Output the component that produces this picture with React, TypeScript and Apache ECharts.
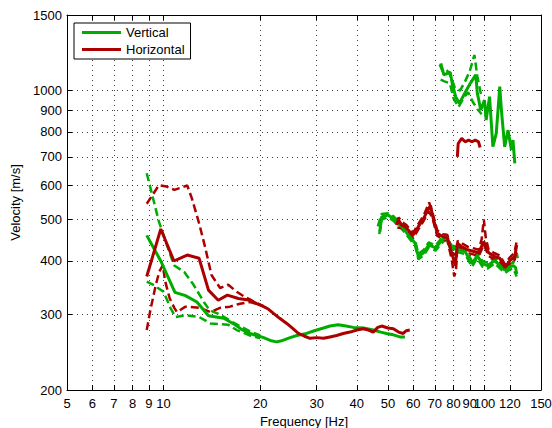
import React, { useEffect, useRef } from "react";
import * as echarts from "echarts";

// Axis tick values (Hz and m/s)
const xTickValues = [5, 6, 7, 8, 9, 10, 20, 30, 40, 50, 60, 70, 80, 90, 100, 120, 150];
const yTickValues = [200, 300, 400, 500, 600, 700, 800, 900, 1000, 1500];

// ---- Vertical (green) ----
const vertLow = [
  [8.86, 459], [9.8, 400], [10.85, 338], [11.7, 332], [12.7, 321], [13.8, 298], [15.4, 294],
  [16.7, 284], [17.5, 277], [18.6, 271], [19.5, 268], [20.5, 265], [21.5, 261], [22.5, 259],
  [23.5, 261], [24.8, 265], [26, 268], [27.9, 271], [29.5, 275], [31.5, 279], [33, 282],
  [35, 284], [37, 282], [39, 280], [42, 279], [45, 276], [47.5, 273], [49.5, 271], [52, 269],
  [54.5, 266], [56.5, 266],
];
const vertLowUpper = [
  [8.86, 641], [9.67, 494], [10.77, 391], [11.6, 377], [12.4, 352], [13.35, 321], [13.9, 307],
  [15, 300], [16.4, 288], [18.6, 274], [20, 268],
];
const vertLowLower = [
  [8.86, 358], [9.34, 351], [10, 339], [10.5, 311], [10.9, 296], [11.7, 299], [12.9, 296],
  [14, 286], [15.9, 284], [16.9, 276], [18.6, 268], [20, 264],
];
const vertMid = [
  [47.2, 468], [47.8, 507], [50, 512], [52, 503], [53.2, 494], [55.8, 477], [58.5, 456],
  [60.8, 440], [62.2, 410], [64.6, 418], [67, 436], [70.4, 429], [73.1, 444], [75.9, 456],
  [78.8, 429], [82.8, 425], [87, 421], [91.4, 394], [94.9, 412], [98.5, 394], [102.3, 390],
  [107.5, 401], [115.8, 381], [120, 388], [123, 390], [125, 386], [126, 373],
];
const vertMidUpper = [
  [46.5, 482], [47.8, 515], [50, 517], [52, 509], [53.2, 500], [55.8, 483], [58.5, 462],
  [60.8, 446], [62.2, 416], [64.6, 424], [67, 442], [70.4, 435], [73.1, 450], [75.9, 462],
  [78.8, 435], [82.8, 431], [87, 427], [91.4, 400], [94.9, 418], [98.5, 400], [102.3, 396],
  [107.5, 407], [115.8, 387], [120, 394], [123, 396], [126, 418], [127, 405],
];
const vertMidLower = [
  [47, 462], [47.8, 500], [50, 506], [52, 497], [53.2, 488], [55.8, 471], [58.5, 450],
  [60.8, 434], [62.2, 404], [64.6, 412], [67, 430], [70.4, 423], [73.1, 438], [75.9, 450],
  [78.8, 423], [82.8, 419], [87, 415], [91.4, 388], [94.9, 406], [98.5, 388], [102.3, 384],
  [107.5, 395], [115.8, 375], [120, 382], [123, 384], [126, 368],
];
const vertHigh = [
  [73.1, 1157], [74.7, 1087], [78.2, 1103], [79.3, 1039], [81.3, 967], [83.5, 933], [86.8, 985],
  [90.3, 1039], [93.9, 1087], [95, 985], [97.4, 900], [100, 950], [101.2, 853], [103.7, 967],
  [106.2, 739], [108.8, 794], [111.6, 1021], [112.9, 900], [115.6, 739], [118.4, 808],
  [121.3, 726], [122.7, 766], [124.3, 676],
];
const vertHighUpper = [
  [72.5, 1150], [74, 1110], [76, 1120], [78, 1090], [81, 1010], [84, 1000], [87, 1050],
  [90, 1110], [93, 1210], [95, 1080], [98, 960],
];
const vertHighLower = [
  [73, 1060], [75, 1050], [78, 1040], [80, 960], [83, 915], [86, 960], [89, 990], [92, 940],
  [95, 905], [98, 880],
];

// ---- Horizontal (red) ----
const horLow = [
  [8.86, 368], [9.8, 475], [10.77, 400], [11.85, 413], [12.9, 406], [13.8, 342], [14.8, 324],
  [15.8, 333], [17.1, 327], [18.6, 324], [19.5, 318], [20.5, 313], [21.2, 309], [22, 302],
  [23, 294], [24.2, 286], [25.3, 278], [26.3, 271], [27.5, 267], [28.6, 264], [30, 265],
  [31.5, 264], [33, 266], [34.6, 268], [36.3, 271], [38.1, 273], [40, 276], [41.9, 278],
  [43.5, 276], [45, 273], [46.5, 280], [47.8, 282], [50, 279], [52, 278], [54, 273],
  [55.8, 271], [57, 275], [58.5, 276],
];
const horLowUpper = [
  [8.86, 544], [9.67, 601], [10.2, 597], [10.8, 586], [11.85, 600], [12.25, 560], [12.9, 490],
  [13.5, 428], [14.1, 371], [15, 346], [15.9, 352], [16.9, 339], [17.9, 330], [19.2, 321],
  [20.5, 314],
];
const horLowLower = [
  [8.86, 276], [9.1, 308], [9.45, 351], [9.7, 378], [9.95, 391], [10.1, 360], [10.45, 327],
  [10.8, 311], [11, 304], [11.7, 313], [13, 311], [14, 304], [15, 311], [16.1, 313],
  [17.3, 318], [18.6, 321], [20, 316],
];
const horMid = [
  [53.2, 485], [53.9, 499], [55.2, 485], [56.6, 481], [58.5, 468], [59.9, 460], [62.2, 481],
  [64.6, 503], [67, 530], [67.9, 539], [68.8, 512], [71.2, 465], [73.9, 456], [76.6, 453],
  [79.6, 410], [81.2, 390], [82.3, 440], [84.9, 432], [88.5, 425], [92.7, 421], [95.8, 418],
  [99.5, 444], [103, 418], [107.5, 410], [111.6, 406], [115.8, 386], [120, 401], [124.3, 410],
  [126, 436],
];
const horMidUpper = [
  [53, 492], [54, 505], [55.5, 492], [57, 486], [58.5, 474], [60, 466], [62.2, 488], [64.6, 510],
  [67.2, 548], [68.8, 520], [71.2, 472], [74, 462], [76.6, 460], [79.6, 418], [81.5, 412],
  [82.5, 446], [85, 440], [88.5, 432], [92.7, 428], [96, 425], [98, 450], [99.5, 500],
  [101, 452], [103, 425], [107.5, 417], [111.6, 412], [115.8, 393], [120, 408], [124, 418],
  [126, 445],
];
const horMidLower = [
  [53.5, 478], [55.2, 478], [56.6, 474], [58.5, 461], [60, 453], [62.2, 474], [64.6, 496],
  [67, 522], [68.8, 505], [71.2, 458], [74, 450], [76.6, 446], [79, 404], [80.5, 368],
  [81.5, 380], [82.3, 433], [85, 426], [88.5, 418], [92.7, 414], [96, 411], [99.5, 437],
  [103, 411], [107.5, 403], [111.6, 399], [115.8, 380], [120, 395], [124.3, 403], [125.5, 425],
];
const horHigh = [
  [82.3, 700], [82.8, 752], [84.9, 773], [87, 759], [89.2, 766], [91.4, 759], [93.6, 766],
  [95.8, 759], [96.9, 736],
];

const GREEN = "#00ac00";
const RED = "#ac0000";
const FONT = "Liberation Sans, Arial, Helvetica, sans-serif";

const lg = (v: number) => Math.log10(v);
const toLog = (pts: number[][]) => pts.map(([f, v]) => [lg(f), lg(v)]);

function lineSeries(name: string, color: string, pts: number[][], dashed: boolean) {
  return {
    type: "line",
    name,
    data: toLog(pts),
    symbol: "none",
    showSymbol: false,
    silent: true,
    color,
    itemStyle: { color },
    lineStyle: dashed
      ? { color, width: 2.5, type: [8, 4] }
      : { color, width: 3 },
    emphasis: { disabled: true },
    z: dashed ? 2 : 3,
  };
}

export default function App() {
  const ref = useRef<HTMLDivElement>(null);
  useEffect(() => {
    if (!ref.current) return;
    const chart = echarts.init(ref.current, undefined, { renderer: "svg" });
    const xTicks = xTickValues.map(lg);
    const yTicks = yTickValues.map(lg);
    const fmt = (v: number) => String(Math.round(Math.pow(10, v)));
    const splitStyle = { color: "#000", type: [1, 4], width: 1, opacity: 0.75 };
    const tick = (vals: number[]) => ({
      show: true,
      inside: true,
      length: 5,
      customValues: vals,
      lineStyle: { color: "#000", width: 1 },
    });
    const axisLine = { show: true, lineStyle: { color: "#000", width: 1 } };
    chart.setOption({
      animation: false,
      backgroundColor: "#fff",
      textStyle: { fontFamily: FONT },
      grid: { left: 67, right: 11, top: 15, bottom: 38, containLabel: false, outerBoundsMode: "none" },
      legend: {
        show: true,
        orient: "vertical",
        left: 74,
        top: 23,
        data: [
          { name: "Vertical", icon: "rect" },
          { name: "Horizontal", icon: "rect" },
        ],
        itemWidth: 39,
        itemHeight: 3,
        itemGap: 4,
        padding: [3, 6, 3, 8],
        backgroundColor: "#fff",
        borderColor: "#000",
        borderWidth: 1,
        borderRadius: 0,
        itemStyle: { borderWidth: 0 },
        textStyle: { fontSize: 13, color: "#000", fontFamily: FONT },
        selectedMode: false,
      },
      xAxis: [
        {
          type: "value",
          min: lg(5),
          max: lg(150),
          position: "bottom",
          name: "Frequency [Hz]",
          nameLocation: "middle",
          nameGap: 19,
          nameTextStyle: { fontSize: 13, color: "#000", fontFamily: FONT },
          axisLine,
          axisTick: tick(xTicks),
          axisLabel: {
            customValues: xTicks,
            formatter: fmt,
            fontSize: 13,
            color: "#000",
            margin: 7,
            fontFamily: FONT,
            hideOverlap: false,
          },
          splitLine: { show: true, lineStyle: splitStyle },
        },
        {
          type: "value",
          min: lg(5),
          max: lg(150),
          position: "top",
          axisLine,
          axisTick: tick(xTicks),
          axisLabel: { show: false },
          splitLine: { show: false },
        },
      ],
      yAxis: [
        {
          type: "value",
          min: lg(200),
          max: lg(1500),
          position: "left",
          name: "Velocity [m/s]",
          nameLocation: "middle",
          nameGap: 29,
          nameTextStyle: { fontSize: 13, color: "#000", fontFamily: FONT },
          axisLine,
          axisTick: tick(yTicks),
          axisLabel: {
            customValues: yTicks,
            formatter: fmt,
            fontSize: 13,
            color: "#000",
            margin: 5,
            fontFamily: FONT,
            hideOverlap: false,
          },
          splitLine: { show: true, lineStyle: splitStyle },
        },
        {
          type: "value",
          min: lg(200),
          max: lg(1500),
          position: "right",
          axisLine,
          axisTick: tick(yTicks),
          axisLabel: { show: false },
          splitLine: { show: false },
        },
      ],
      series: [
        lineSeries("Vertical", GREEN, vertLow, false),
        lineSeries("Vertical", GREEN, vertLowUpper, true),
        lineSeries("Vertical", GREEN, vertLowLower, true),
        lineSeries("Vertical", GREEN, vertMid, false),
        lineSeries("Vertical", GREEN, vertMidUpper, true),
        lineSeries("Vertical", GREEN, vertMidLower, true),
        lineSeries("Vertical", GREEN, vertHigh, false),
        lineSeries("Vertical", GREEN, vertHighUpper, true),
        lineSeries("Vertical", GREEN, vertHighLower, true),
        lineSeries("Horizontal", RED, horLow, false),
        lineSeries("Horizontal", RED, horLowUpper, true),
        lineSeries("Horizontal", RED, horLowLower, true),
        lineSeries("Horizontal", RED, horMid, false),
        lineSeries("Horizontal", RED, horMidUpper, true),
        lineSeries("Horizontal", RED, horMidLower, true),
        lineSeries("Horizontal", RED, horHigh, false),
      ],
    });
    return () => chart.dispose();
  }, []);
  return (
    <div
      ref={ref}
      style={{ position: "absolute", left: 0, top: 0, width: 552, height: 428, background: "#fff" }}
    />
  );
}
